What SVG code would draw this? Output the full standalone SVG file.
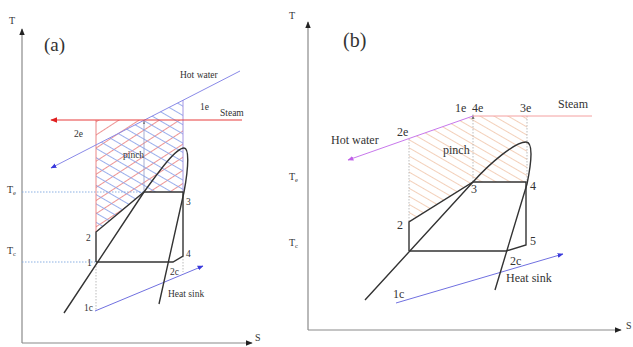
<svg xmlns="http://www.w3.org/2000/svg" width="633" height="347" viewBox="0 0 633 347">
<style>
text{font-family:"Liberation Serif","Times New Roman",serif;fill:#333}
.ax{stroke:#8a8a8a;stroke-width:1.2;fill:none}
.wf{stroke:#333;stroke-width:1.4;fill:none}
.dot{stroke:#aaa;stroke-width:0.8;stroke-dasharray:1.5 1.5;fill:none}
.dotb{stroke:#7fa8e0;stroke-width:0.9;stroke-dasharray:1.5 1.5;fill:none}
.sa{font-size:9.5px}
.sb{font-size:12px}
</style>
<defs>
<marker id="ak" viewBox="0 0 10 10" refX="9" refY="5" markerWidth="6" markerHeight="6" orient="auto"><path d="M0,1L10,5L0,9z" fill="#222"/></marker>
<marker id="ablue" viewBox="0 0 10 10" refX="9" refY="5" markerWidth="6" markerHeight="6" orient="auto"><path d="M0,1L10,5L0,9z" fill="#3a3adc"/></marker>
<marker id="ared" viewBox="0 0 10 10" refX="9" refY="5" markerWidth="6" markerHeight="6" orient="auto"><path d="M0,1L10,5L0,9z" fill="#e02020"/></marker>
<marker id="amag" viewBox="0 0 10 10" refX="9" refY="5" markerWidth="6" markerHeight="6" orient="auto"><path d="M0,1L10,5L0,9z" fill="#c060e8"/></marker>
<pattern id="hRed" patternUnits="userSpaceOnUse" width="20" height="11" patternTransform="rotate(-33)"><path d="M0,0.5H20" stroke="#e87878" stroke-width="0.8"/></pattern>
<pattern id="hBlue" patternUnits="userSpaceOnUse" width="20" height="8" patternTransform="rotate(30)"><path d="M0,0.5H20" stroke="#8fa6ea" stroke-width="0.9"/></pattern>
<pattern id="hOr" patternUnits="userSpaceOnUse" width="20" height="7" patternTransform="rotate(30)"><path d="M0,0.5H20" stroke="#f0c4a8" stroke-width="0.8"/></pattern>
</defs>

<g id="panel-a">
<g id="axes-a">
<path class="ax" d="M22,343V29" marker-end="url(#ak)"/>
<path class="ax" d="M22,343H252" marker-end="url(#ak)"/>
<text x="9" y="24" font-size="10">T</text>
<text x="255" y="341" font-size="10">S</text>
<text x="44" y="51" font-size="19">(a)</text>
<text x="7" y="193" font-size="10">T<tspan font-size="6.5" dy="2">e</tspan></text>
<text x="7" y="254" font-size="10">T<tspan font-size="6.5" dy="2">c</tspan></text>
</g>
<g id="hatch-a">
<path d="M96,120H183V192H144L96,232Z" fill="url(#hRed)"/>
<path d="M96,145L183,100V192H144L96,232Z" fill="url(#hBlue)"/>
</g>
<g id="connectors-a">
<path class="dotb" d="M22,192H144"/>
<path class="dotb" d="M22,262H96"/>
<path class="dot" d="M96,263V311"/>
<path class="dot" d="M183,256V272"/>
<path d="M96,120V232" stroke="#e87878" stroke-width="0.9"/>
<path d="M183,100V192" stroke="#9a8ae0" stroke-width="0.9"/>
<path d="M144,121V191" stroke="#8f9ac8" stroke-width="0.8"/>
<path d="M143,124L144,120L145,124Z" fill="#777"/>
<path d="M240,71L51,168" stroke="#8a8ae8" stroke-width="1" marker-end="url(#ablue)"/>
<path d="M242,120H51" stroke="#e83c3c" stroke-width="1.2" marker-end="url(#ared)"/>
<path d="M95,311L203,266" stroke="#7070e0" stroke-width="1" marker-end="url(#ablue)"/>
<path class="wf" d="M64,313L144,192C160,170 176,148 184,148C189,148 189,165 184,192L159,304"/>
<path class="wf" d="M96,262V232L144,192H183V256L173,262H96"/>
</g>
<g id="labels-a">
<text class="sa" x="180" y="78">Hot water</text>
<text class="sa" x="200" y="110">1e</text>
<text class="sa" x="220" y="116">Steam</text>
<text class="sa" x="74" y="137">2e</text>
<text class="sa" x="123" y="158">pinch</text>
<text class="sa" x="186" y="205">3</text>
<text class="sa" x="86" y="241">2</text>
<text class="sa" x="87" y="266">1</text>
<text class="sa" x="186" y="257">4</text>
<text class="sa" x="170" y="275">2c</text>
<text class="sa" x="168" y="297">Heat sink</text>
<text class="sa" x="84" y="311">1c</text>
</g>
</g>

<g id="panel-b">
<g id="axes-b">
<path class="ax" d="M308,330V22" marker-end="url(#ak)"/>
<path class="ax" d="M308,330H621" marker-end="url(#ak)"/>
<text x="289" y="19" font-size="10">T</text>
<text x="626" y="329" font-size="10">S</text>
<text x="343" y="47" font-size="20">(b)</text>
<text x="289" y="180" font-size="10">T<tspan font-size="6.5" dy="2">e</tspan></text>
<text x="289" y="246" font-size="10">T<tspan font-size="6.5" dy="2">c</tspan></text>
</g>
<g id="hatch-b">
<path d="M409,138.5L473,116H527V182H473L409,222Z" fill="url(#hOr)"/>
</g>
<g id="connectors-b">
<path class="dot" d="M409,139V222"/>
<path class="dot" d="M473,117V182"/>
<path class="dot" d="M527,116V182"/>
<path d="M471.5,119L473,114L474.5,119Z" fill="#777"/>
<path d="M473,116H592" stroke="#f4a0a0" stroke-width="1"/>
<path d="M473,116L348,160" stroke="#c878ec" stroke-width="1" marker-end="url(#amag)"/>
<path d="M396,303L563,254" stroke="#7070e0" stroke-width="1" marker-end="url(#ablue)"/>
<path class="wf" d="M365,300L473,182C490,163 515,142 526,142C533,142 532,160 527,184L495,290"/>
<path class="wf" d="M409,251V222L473,182H526V245L506,251H409"/>
</g>
<g id="labels-b">
<text class="sb" x="455" y="112" font-size="11">1e</text>
<text class="sb" x="472" y="112">4e</text>
<text class="sb" x="520" y="112">3e</text>
<text class="sb" x="558" y="108">Steam</text>
<text class="sb" x="331" y="144">Hot water</text>
<text class="sb" x="397" y="136">2e</text>
<text class="sb" x="443" y="154">pinch</text>
<text class="sb" x="471" y="193">3</text>
<text class="sb" x="530" y="190">4</text>
<text class="sb" x="397" y="229">2</text>
<text class="sb" x="530" y="245">5</text>
<text class="sb" x="510" y="265">2c</text>
<text class="sb" x="506" y="282">Heat sink</text>
<text class="sb" x="393" y="298">1c</text>
</g>
</g>
</svg>
